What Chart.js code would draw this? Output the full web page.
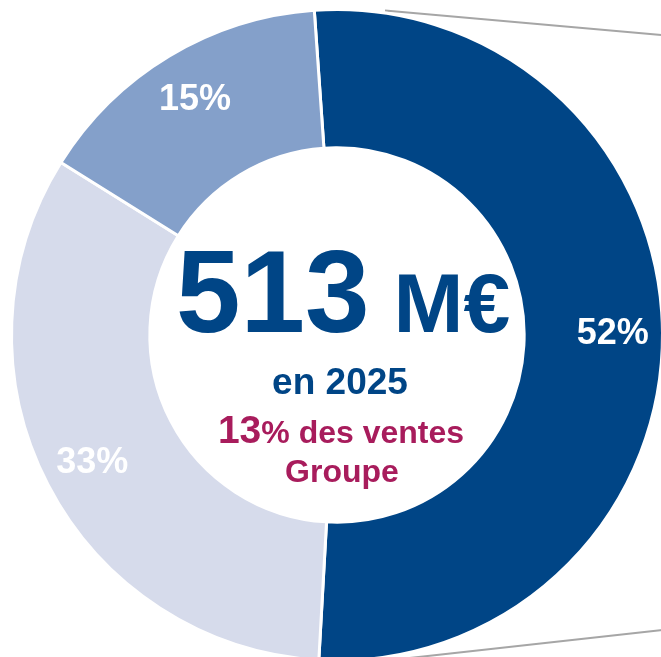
<!DOCTYPE html>
<html>
<head>
<meta charset="utf-8">
<script src="https://cdn.jsdelivr.net/npm/chart.js@4/dist/chart.umd.min.js"></script>
<style>
  html, body { margin: 0; padding: 0; background: #fff; overflow: hidden; }
  #wrap { position: absolute; left: 0; top: 0; width: 674px; height: 670px; }
</style>
</head>
<body>
<div id="wrap"><canvas id="chart" width="674" height="670"></canvas></div>
<script>
// parts of the 2025 sales, in %
var categories = ["part 1", "part 2", "part 3"];
var shares = [52, 33, 15];
var shareLabels = ["52%", "33%", "15%"];
var sliceColors = ["#004586", "#d6dbeb", "#84a0ca"];

var totalText = "513";
var unitText = "M€";
var yearText = "en 2025";
var groupShare = "13";
var groupText = "% des ventes";
var groupText2 = "Groupe";

var BLUE = "#004586";
var PINK = "#a81c5c";
var FONT = "'Liberation Sans', Arial, sans-serif";

var guideLines = {
  id: "guideLines",
  beforeDatasetsDraw: function (chart) {
    var arc = chart.getDatasetMeta(0).data[0];
    var cx = arc.x, cy = arc.y, r = arc.outerRadius;
    var ctx = chart.ctx;
    ctx.save();
    ctx.strokeStyle = "#a6a6a6";
    ctx.lineWidth = 2;
    ctx.beginPath();
    ctx.moveTo(cx + 48, cy - r + 1);
    ctx.lineTo(cx + 330, cy - r + 26);
    ctx.moveTo(cx + 50, cy + r);
    ctx.lineTo(cx + 330, cy + r - 31);
    ctx.stroke();
    ctx.restore();
  }
};

var sliceLabels = {
  id: "sliceLabels",
  afterDatasetsDraw: function (chart) {
    var ctx = chart.ctx;
    ctx.save();
    ctx.fillStyle = "#fff";
    ctx.font = "bold 36px " + FONT;
    ctx.textAlign = "center";
    ctx.textBaseline = "middle";
    chart.getDatasetMeta(0).data.forEach(function (arc, i) {
      var a = (arc.startAngle + arc.endAngle) / 2;
      var rr = arc.innerRadius + 0.64 * (arc.outerRadius - arc.innerRadius);
      ctx.fillText(shareLabels[i], arc.x + Math.cos(a) * rr, arc.y + Math.sin(a) * rr + 1);
    });
    ctx.restore();
  }
};

var centerText = {
  id: "centerText",
  afterDraw: function (chart) {
    var arc = chart.getDatasetMeta(0).data[0];
    var cx = arc.x, cy = arc.y;
    var ctx = chart.ctx;
    ctx.save();
    ctx.textBaseline = "alphabetic";
    ctx.textAlign = "left";

    // big total
    ctx.font = "bold 116px " + FONT;
    var w1 = ctx.measureText(totalText).width + 24;
    ctx.font = "bold 84px " + FONT;
    var w2 = ctx.measureText(unitText).width;
    var x = cx + 6 - (w1 + w2) / 2;
    ctx.fillStyle = BLUE;
    ctx.font = "bold 116px " + FONT;
    ctx.fillText(totalText, x, cy - 3);
    ctx.font = "bold 84px " + FONT;
    ctx.fillText(unitText, x + w1, cy - 3);

    // year
    ctx.textAlign = "center";
    ctx.font = "bold 37px " + FONT;
    ctx.fillText(yearText, cx + 3, cy + 59);

    // share of group
    ctx.textAlign = "left";
    ctx.font = "bold 39px " + FONT;
    var w3 = ctx.measureText(groupShare).width;
    ctx.font = "bold 32px " + FONT;
    var w4 = ctx.measureText(groupText).width;
    x = cx + 4 - (w3 + w4) / 2;
    ctx.fillStyle = PINK;
    ctx.font = "bold 39px " + FONT;
    ctx.fillText(groupShare, x, cy + 108);
    ctx.font = "bold 32px " + FONT;
    ctx.fillText(groupText, x + w3, cy + 108);

    ctx.textAlign = "center";
    ctx.font = "bold 32px " + FONT;
    ctx.fillText(groupText2, cx + 5, cy + 147);
    ctx.restore();
  }
};

var chart = new Chart(document.getElementById("chart"), {
  type: "doughnut",
  data: {
    labels: categories,
    datasets: [
      {
        data: shares,
        backgroundColor: sliceColors,
        borderColor: "#fff",
        borderWidth: 3,
        hoverOffset: 0,
      },
    ],
  },
  options: {
    responsive: false,
    animation: false,
    events: [],
    rotation: -4,
    radius: 325.5,
    cutout: "57.5%",
    layout: { padding: 0 },
    plugins: {
      legend: { display: false },
      tooltip: { enabled: false },
    },
  },
  plugins: [guideLines, sliceLabels, centerText],
});
</script>
</body>
</html>
